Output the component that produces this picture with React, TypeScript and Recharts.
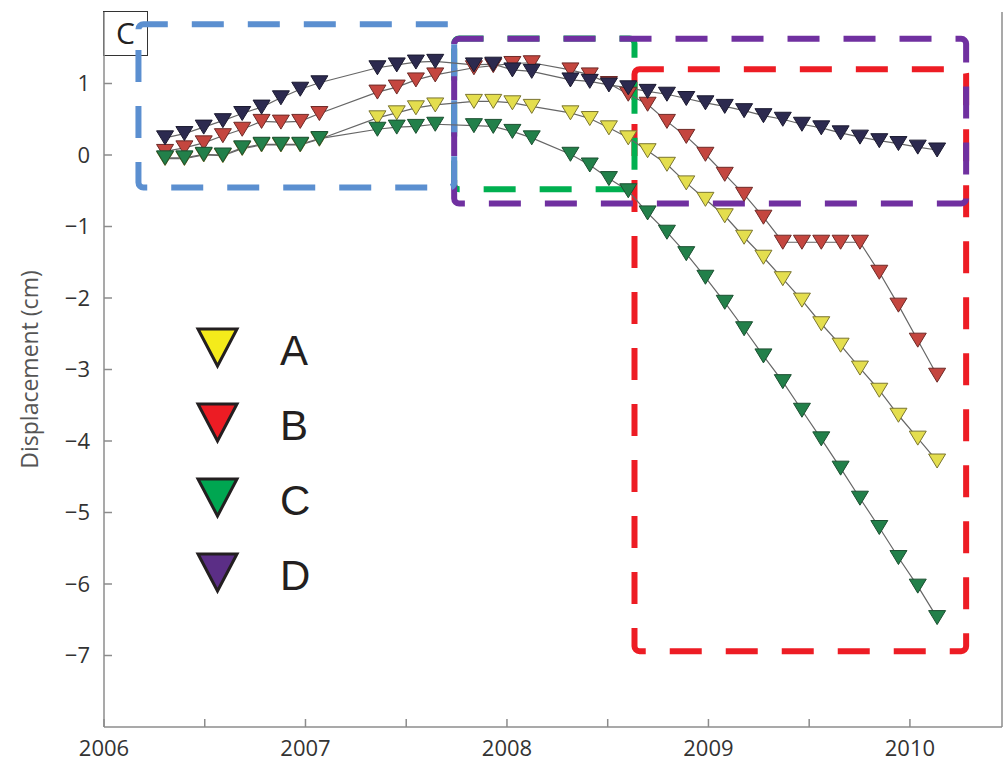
import React from 'react';
import { LineChart, Line, XAxis, YAxis, ReferenceArea, Legend, Label } from 'recharts';

// acquisition epochs, decimal years (35-day repeat, a few gaps)
const epochs = [
  2006.303, 2006.399, 2006.495, 2006.590, 2006.686, 2006.782, 2006.878, 2006.974, 2007.069,
  2007.357, 2007.453, 2007.548, 2007.644,
  2007.836, 2007.932, 2008.027, 2008.123,
  2008.315, 2008.411, 2008.506, 2008.602, 2008.698, 2008.794, 2008.890, 2008.985, 2009.081,
  2009.177, 2009.273, 2009.369, 2009.464, 2009.560, 2009.656, 2009.752, 2009.848, 2009.943,
  2010.039, 2010.135,
];

// displacement in cm for each point
const valuesA = [
  -0.05, -0.05, 0.0, -0.01, 0.09, 0.14, 0.14, 0.14, 0.22,
  0.52, 0.59, 0.66, 0.70,
  0.75, 0.75, 0.73, 0.68,
  0.59, 0.51, 0.38, 0.24, 0.06, -0.13, -0.39, -0.62, -0.85,
  -1.15, -1.43, -1.73, -2.03, -2.36, -2.66, -2.98, -3.29, -3.64,
  -3.96, -4.28,
];
const valuesB = [
  0.05, 0.1, 0.17, 0.27, 0.36, 0.47, 0.46, 0.47, 0.58,
  0.88, 0.95, 1.05, 1.12,
  1.22, 1.25, 1.28, 1.29,
  1.19, 1.12, 1.0, 0.85, 0.71, 0.47, 0.26, 0.01, -0.27,
  -0.55, -0.87, -1.22, -1.22, -1.22, -1.22, -1.22, -1.64, -2.1,
  -2.59, -3.08,
];
const valuesC = [
  -0.04, -0.04, 0.01, 0.0, 0.1, 0.15, 0.15, 0.15, 0.23,
  0.36, 0.39, 0.4, 0.43,
  0.41, 0.4, 0.33, 0.24,
  0.01, -0.14, -0.33, -0.5, -0.81, -1.08, -1.38, -1.71, -2.06,
  -2.43, -2.81, -3.17, -3.57, -3.97, -4.38, -4.8, -5.21, -5.63,
  -6.03, -6.47,
];
const valuesD = [
  0.24, 0.3, 0.39, 0.48, 0.58, 0.67, 0.8, 0.92, 1.01,
  1.22, 1.26, 1.3, 1.31,
  1.26, 1.27, 1.19, 1.17,
  1.05, 1.03, 0.98, 0.94, 0.89, 0.85, 0.79, 0.73, 0.68,
  0.62, 0.55, 0.5, 0.43, 0.38, 0.31, 0.25, 0.2, 0.16,
  0.11, 0.07,
];

const xTicks = [2006, 2006.5, 2007, 2007.5, 2008, 2008.5, 2009, 2009.5, 2010];
const yTicks = [-7, -6, -5, -4, -3, -2, -1, 0, 1];

// dashed outlines grouping the time windows
const boxes = [
  { id: 'red', x1: 2008.633, x2: 2010.279, y1: -6.94, y2: 1.2, color: '#ed1c24' },
  { id: 'green', x1: 2007.738, x2: 2008.633, y1: -0.48, y2: 1.63, color: '#00b050' },
  { id: 'purple', x1: 2007.738, x2: 2010.279, y1: -0.68, y2: 1.625, color: '#7030a0' },
  { id: 'blue', x1: 2006.171, x2: 2007.738, y1: -0.455, y2: 1.83, color: '#5b8fd0' },
];

const series = [
  { key: 'A', values: valuesA, fill: '#e4de4e', edge: '#7a7530', legendFill: '#f4eb1b' },
  { key: 'B', values: valuesB, fill: '#c4463f', edge: '#6e2a27', legendFill: '#ec1c24' },
  { key: 'C', values: valuesC, fill: '#22804a', edge: '#1b4f30', legendFill: '#00a651' },
  { key: 'D', values: valuesD, fill: '#2c2a4f', edge: '#1b1a30', legendFill: '#5b2e86' },
];

const data = epochs.map((t, i) => {
  const row: Record<string, number> = { t };
  series.forEach((s) => {
    row[s.key] = s.values[i];
  });
  return row;
});

const axisFont = { fill: '#333', fontSize: 22, fontFamily: 'Open Sans' };

const TriangleDot = ({ cx, cy, fill, edge }: any) => {
  if (cx == null || cy == null) return null;
  const w = 8.5;
  const h = 7;
  return (
    <path
      d={`M${cx - w},${cy - h} L${cx + w},${cy - h} L${cx},${cy + h} Z`}
      fill={fill}
      stroke={edge}
      strokeWidth={1}
    />
  );
};

const renderLegend = () => (
  <svg width={140} height={280}>
    {series.map((s, i) => (
      <g key={s.key} transform={`translate(0, ${i * 75})`}>
        <path d="M8,9 L47,9 L27.5,46 Z" fill={s.legendFill} stroke="#231f20" strokeWidth={3} />
        <text x={90} y={45} fontSize={42} fontFamily="Liberation Sans, Arial" fill="#231f20">
          {s.key}
        </text>
      </g>
    ))}
  </svg>
);

const fmtY = (v: number) => (v < 0 ? `\u2212${Math.abs(v)}` : String(v));
const fmtX = (v: number) => (Number.isInteger(v) ? String(v) : '');

export default function App() {
  return (
    <div style={{ position: 'absolute', left: 0, top: 0, width: 1003, height: 763, background: '#fff' }}>
      {/* panel letter */}
      <div
        style={{
          position: 'absolute',
          left: 103,
          top: 11,
          width: 45,
          height: 45,
          boxSizing: 'border-box',
          border: '1.5px solid #333',
          fontFamily: 'Open Sans',
          fontSize: 30,
          lineHeight: '42px',
          textAlign: 'center',
          color: '#222',
        }}
      >
        C
      </div>
      <LineChart width={1003} height={763} data={data} margin={{ top: 12, right: 0, bottom: 0, left: 0 }}>
        <XAxis
          dataKey="t"
          type="number"
          domain={[2006, 2010.457]}
          allowDataOverflow
          ticks={xTicks}
          tickFormatter={fmtX}
          height={36}
          tickSize={-8}
          tickMargin={21}
          stroke="#8c8c8c"
          strokeWidth={1.5}
          tick={axisFont}
        />
        <XAxis
          xAxisId="top"
          orientation="top"
          type="number"
          domain={[2006, 2010.457]}
          allowDataOverflow
          ticks={xTicks}
          height={0}
          tickSize={-8}
          tick={false}
          stroke="#8c8c8c"
          strokeWidth={1.5}
        />
        <YAxis
          type="number"
          domain={[-8, 2]}
          allowDataOverflow
          ticks={yTicks}
          tickFormatter={fmtY}
          width={104}
          tickSize={-8}
          tickMargin={22}
          stroke="#8c8c8c"
          strokeWidth={1.5}
          tick={axisFont}
        >
          <Label
            value="Displacement (cm)"
            angle={-90}
            position="insideLeft"
            offset={30}
            style={{ textAnchor: 'middle', fill: '#555', fontSize: 23, fontFamily: 'Open Sans' }}
          />
        </YAxis>
        <YAxis
          yAxisId="right"
          orientation="right"
          type="number"
          domain={[-8, 2]}
          allowDataOverflow
          ticks={yTicks}
          width={1}
          tickSize={-8}
          tick={false}
          stroke="#8c8c8c"
          strokeWidth={1.5}
        />
        {series.map((s) => (
          <Line
            key={s.key}
            type="linear"
            dataKey={s.key}
            stroke="#666"
            strokeWidth={1.2}
            isAnimationActive={false}
            activeDot={false}
            dot={(p: any) => (
              <TriangleDot key={`${s.key}-${p.index}`} cx={p.cx} cy={p.cy} fill={s.fill} edge={s.edge} />
            )}
          />
        ))}
        {boxes.map((b) => (
          <ReferenceArea
            key={b.id}
            x1={b.x1}
            x2={b.x2}
            y1={b.y1}
            y2={b.y2}
            ifOverflow="visible"
            fill="none"
            fillOpacity={0}
            stroke={b.color}
            strokeWidth={6}
            strokeDasharray="32 24"
            radius={5}
          />
        ))}
        <Legend
          layout="vertical"
          align="center"
          verticalAlign="middle"
          content={renderLegend}
          wrapperStyle={{ position: 'absolute', left: 190, top: 320, width: 140, height: 280 }}
        />
      </LineChart>
    </div>
  );
}
